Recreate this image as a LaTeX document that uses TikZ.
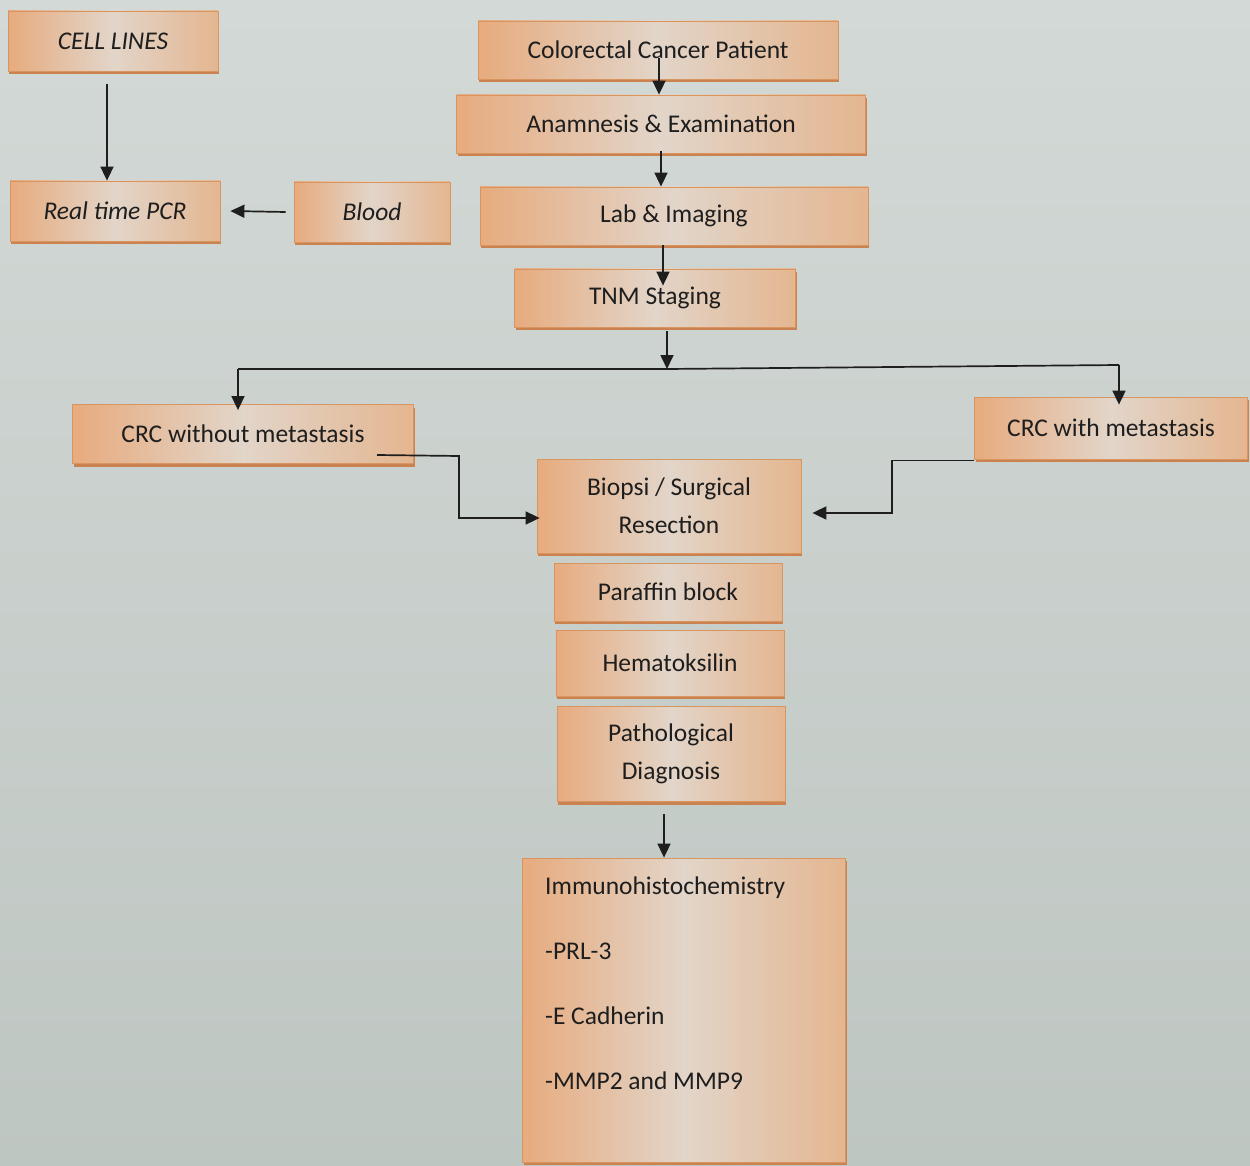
\documentclass[tikz,border=0pt]{standalone}
\usepackage{fontspec}
\setmainfont{Carlito}
\usetikzlibrary{arrows.meta,shadows,calc}
\definecolor{bgtop}{HTML}{D3D9D6}
\definecolor{bgbot}{HTML}{BEC6C2}
\definecolor{boxleft}{HTML}{E7AB7E}
\definecolor{boxmid}{HTML}{E2D5C9}
\definecolor{boxright}{HTML}{E4B690}
\definecolor{boxline}{HTML}{D9955F}
\definecolor{boxedge}{HTML}{C98250}
\definecolor{ink}{HTML}{1E1E1E}
\tikzset{
  x=1pt, y=-1pt,
  fbox/.style={draw=boxline, line width=0.8pt, left color=boxleft, right color=boxright, middle color=boxmid,
    general shadow={fill=boxedge, shadow xshift=1pt, shadow yshift=-3pt},
    text=ink, font=\fontsize{25.5}{38}\selectfont, align=center, inner sep=0pt},
  arr/.style={draw=ink, line width=1.7pt, -{Triangle[length=14pt,width=13pt]}},
  plain/.style={draw=ink, line width=1.7pt},
}
\begin{document}
\begin{tikzpicture}
\fill[top color=bgtop, bottom color=bgbot] (0,0) rectangle (1250,1166);
\useasboundingbox (0,0) rectangle (1250,1166);

% left group
\node[fbox, minimum width=210pt, minimum height=60pt] (cell) at (113,41) {\itshape CELL LINES};
\node[fbox, minimum width=210pt, minimum height=60pt] (pcr) at (115,211) {\itshape Real time PCR};
\node[fbox, minimum width=156pt, minimum height=60pt] (blood) at (372,212) {\itshape Blood};

% main column
\node[fbox, minimum width=360pt, minimum height=58pt] (ccp) at (658,50) {Colorectal Cancer Patient};
\node[fbox, minimum width=409pt, minimum height=58pt] (anam) at (661,124) {Anamnesis \& Examination};
\node[fbox, minimum width=388pt, minimum height=58pt] (lab) at (674,216) {Lab \& Imaging};
\node[fbox, minimum width=281pt, minimum height=58pt] (tnm) at (655,298) {TNM Staging};

\node[fbox, minimum width=341pt, minimum height=59pt] (crcwo) at (243,434) {CRC without metastasis};
\node[fbox, minimum width=273pt, minimum height=62pt] (crcw) at (1111,428) {CRC with metastasis};

\node[fbox, minimum width=264pt, minimum height=94pt] (biop) at (669,506) {Biopsi / Surgical\\Resection};
\node[fbox, minimum width=228pt, minimum height=58pt] (para) at (668,592) {Paraffin block};
\node[fbox, minimum width=228pt, minimum height=66pt] (hema) at (670,663) {Hematoksilin};
\node[fbox, minimum width=228pt, minimum height=95pt] (path) at (671,754) {Pathological\\Diagnosis};

\node[fbox, minimum width=323pt, minimum height=304pt] (ihc) at (684,1010) {};
\node[anchor=north west, align=left, inner sep=0pt, text=ink, font=\fontsize{25.5}{65}\selectfont] (ihct) at (545,877)
  {Immunohistochemistry\\-PRL-3\\-E Cadherin\\-MMP2 and MMP9};

% connectors
\draw[arr] ([xshift=-6pt,yshift=-13pt]cell.south) -- ([xshift=-8pt]pcr.north);
\draw[arr] ([xshift=-8pt]blood.west) -- ([xshift=10pt]pcr.east);

\draw[arr] ([xshift=1pt,yshift=-8pt]ccp.center) -- ([xshift=-2pt]anam.north);
\draw[arr] ([yshift=2pt]anam.south) -- ([xshift=-13pt]lab.north);
\draw[arr] ([xshift=-11pt]lab.south) -- ([xshift=8pt,yshift=-17pt]tnm.north);

\coordinate (j) at (667,369);
\coordinate (jl) at (238,369);
\coordinate (jr) at (1119,365);
\draw[arr] ([xshift=12pt,yshift=-4pt]tnm.south) -- (j);
\draw[plain] (jl) -- (j) -- (jr);
\draw[arr] (jl) -- ([xshift=-5pt,yshift=-6pt]crcwo.north);
\draw[arr] (jr) -- ([xshift=8pt,yshift=-8pt]crcw.north);

\draw[arr] ([xshift=134pt,yshift=-21pt]crcwo.center) -- ++(82,1) |- ([xshift=3pt,yshift=-12pt]biop.west);
\draw[arr] ([yshift=-1pt]crcw.south west) -- ++(-82,0) |- ([xshift=11pt,yshift=-7pt]biop.east);

\draw[arr] ([xshift=-7pt,yshift=-12pt]path.south) -- ([xshift=-20pt]ihc.north);
\end{tikzpicture}
\end{document}
